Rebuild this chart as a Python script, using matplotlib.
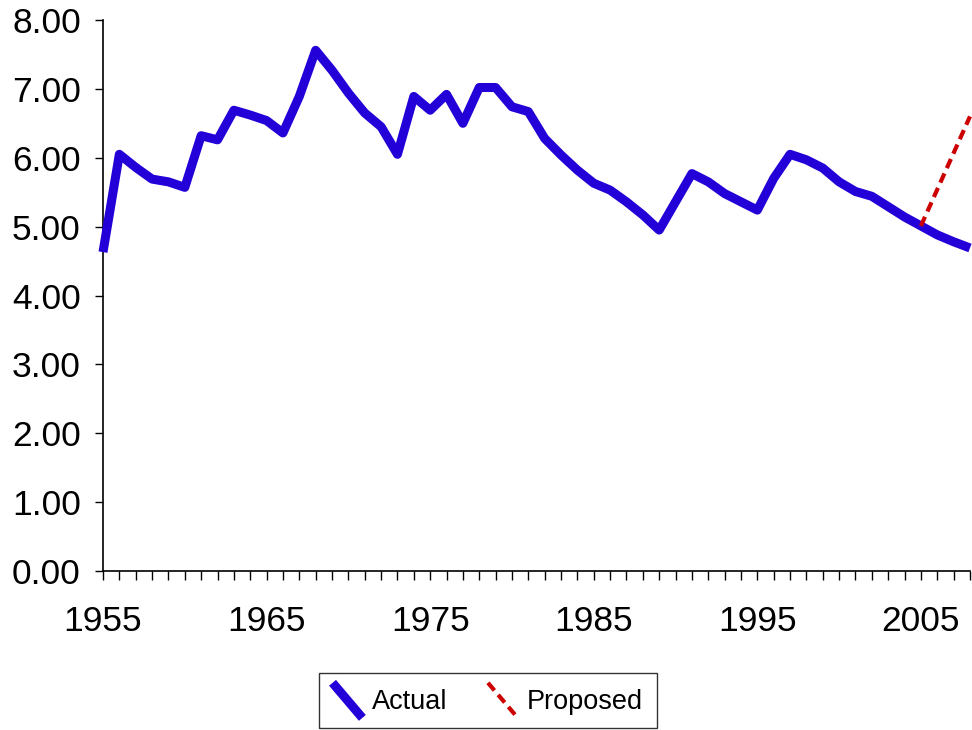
import matplotlib
matplotlib.use("Agg")
import matplotlib.pyplot as plt
from matplotlib.lines import Line2D
from matplotlib.legend_handler import HandlerLine2D
from matplotlib.ticker import MultipleLocator, FormatStrFormatter

plt.rcParams['font.family'] = ['Liberation Sans', 'DejaVu Sans']

# data
years = list(range(1955, 2009))
actual = [4.63, 6.05, 5.86, 5.69, 5.65, 5.57, 6.32, 6.26, 6.69, 6.62,
          6.54, 6.36, 6.89, 7.56, 7.27, 6.94, 6.65, 6.45, 6.05, 6.89,
          6.69, 6.92, 6.50, 7.02, 7.02, 6.74, 6.67, 6.28, 6.04, 5.82,
          5.63, 5.53, 5.36, 5.17, 4.95, 5.36, 5.77, 5.65, 5.48, 5.36,
          5.24, 5.70, 6.05, 5.97, 5.85, 5.65, 5.51, 5.44, 5.29, 5.14,
          5.01, 4.88, 4.78, 4.69]
proposed_years = [2005, 2006, 2007, 2008]
proposed = [5.01, 5.54, 6.07, 6.60]


class DiagHandler(HandlerLine2D):
    # legend handle drawn as a diagonal stroke, like the original
    def create_artists(self, legend, orig_handle, xdescent, ydescent,
                       width, height, fontsize, trans):
        x0, y0 = -xdescent, -ydescent
        line = Line2D([x0, x0 + width], [y0 + height * 1.15, y0 - height * 0.2])
        self.update_prop(line, orig_handle, legend)
        line.set_transform(trans)
        return [line]


fig = plt.figure(figsize=(9.72, 7.30), dpi=100)
ax = fig.add_axes([103 / 972, 159 / 730, 867 / 972, 551 / 730])

ax.plot(years, actual, color='#2400D8', lw=6.5, solid_joinstyle='round',
        solid_capstyle='butt', clip_on=False, label='Actual', zorder=3)
ax.plot(proposed_years, proposed, color='#CC0000', lw=3, ls=(0, (2.4, 1.4)),
        clip_on=False, label='Proposed', zorder=4)

ax.set_xlim(1955, 2008)
ax.set_ylim(0, 8)
ax.xaxis.set_minor_locator(MultipleLocator(1))
ax.set_xticks(range(1955, 2009, 10))
ax.yaxis.set_major_locator(MultipleLocator(1))
ax.yaxis.set_major_formatter(FormatStrFormatter('%.2f'))

for s in ['top', 'right']:
    ax.spines[s].set_visible(False)
for s in ['left', 'bottom']:
    ax.spines[s].set_linewidth(1.2)

ax.tick_params(axis='y', which='major', direction='out', length=6, width=1,
               labelsize=25.5, pad=10)
ax.tick_params(axis='x', which='both', direction='out', length=6.5, width=1,
               labelsize=25.5, pad=18)

leg = fig.legend(handler_map={Line2D: DiagHandler()},
                 loc='center', bbox_to_anchor=(0.502, 0.04), ncol=2,
                 fontsize=19.5, frameon=True, fancybox=False, edgecolor='black',
                 handlelength=1.1, handleheight=1.1, handletextpad=0.35,
                 columnspacing=1.5, borderpad=0.5)
leg.get_frame().set_linewidth(1)

fig.savefig('out.png', dpi=100)
